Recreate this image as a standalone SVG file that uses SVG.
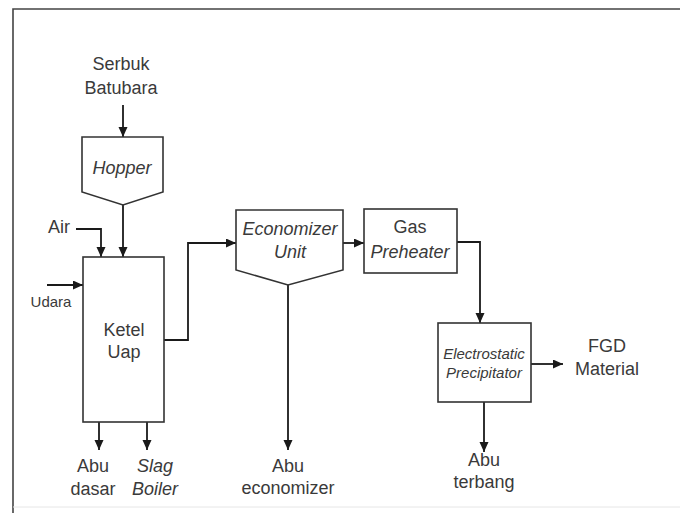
<svg xmlns="http://www.w3.org/2000/svg" width="680" height="513" viewBox="0 0 680 513">
<defs>
<marker id="ah" markerUnits="userSpaceOnUse" markerWidth="11" markerHeight="10" refX="10" refY="4.5" orient="auto">
<path d="M0,0 L10,4.5 L0,9 z" fill="#1a1a1a"/>
</marker>
<style>
.box{fill:#fff;stroke:#333;stroke-width:1.6}
.ln{fill:none;stroke:#1a1a1a;stroke-width:1.8}
.ar{fill:none;stroke:#1a1a1a;stroke-width:1.8;marker-end:url(#ah)}
text{font-family:"Liberation Sans",Arial,sans-serif;fill:#3a3a3a;text-anchor:middle}
.t{font-size:18px}
.i{font-style:italic}
.s{font-size:15px}
</style>
</defs>
<rect width="680" height="513" fill="#fff"/>
<g id="frame">
<path d="M13,513 L13,9 L680,9" fill="none" stroke="#444" stroke-width="1.6"/>
<line x1="13" y1="507" x2="680" y2="507" stroke="#e6e6e6" stroke-width="1"/>
</g>
<g id="connectors">
<line class="ar" x1="123" y1="105" x2="123" y2="137"/>
<line class="ar" x1="123" y1="205" x2="123" y2="257"/>
<path class="ar" d="M76,229 L101,229 L101,257"/>
<line class="ar" x1="47" y1="285" x2="83" y2="285"/>
<path class="ar" d="M164,340 L188,340 L188,243 L236,243"/>
<line class="ar" x1="343" y1="243" x2="364" y2="243"/>
<path class="ar" d="M457,242 L480,242 L480,323"/>
<line class="ar" x1="531" y1="364" x2="563" y2="364"/>
<line class="ar" x1="99" y1="422" x2="99" y2="450"/>
<line class="ar" x1="147" y1="422" x2="147" y2="450"/>
<line class="ar" x1="288" y1="285" x2="288" y2="450"/>
<line class="ar" x1="484" y1="402" x2="484" y2="452"/>
</g>
<g id="serbuk">
<text class="t" x="121" y="70">Serbuk</text>
<text class="t" x="121" y="94">Batubara</text>
</g>
<g id="hopper">
<path class="box" d="M82,137 L163,137 L163,192 L123,205 L82,192 Z"/>
<text class="t i" x="122" y="174">Hopper</text>
</g>
<g id="air"><text class="t" x="59" y="233">Air</text></g>
<g id="udara"><text class="s" x="51" y="307">Udara</text></g>
<g id="ketel">
<rect class="box" x="83" y="257" width="81" height="165"/>
<text class="t" x="124" y="336">Ketel</text>
<text class="t" x="124" y="358">Uap</text>
</g>
<g id="economizer">
<path class="box" d="M236,210 L343,210 L343,270 L288,285 L236,270 Z"/>
<text class="t i" x="290" y="235" font-size="17">Economizer</text>
<text class="t i" x="290" y="258">Unit</text>
</g>
<g id="preheater">
<rect class="box" x="364" y="209" width="93" height="64"/>
<text class="t" x="410" y="233">Gas</text>
<text class="t i" x="410" y="258">Preheater</text>
</g>
<g id="esp">
<rect class="box" x="438" y="323" width="93" height="79"/>
<text class="s i" x="484" y="359">Electrostatic</text>
<text class="s i" x="484" y="378">Precipitator</text>
</g>
<g id="fgd">
<text class="t" x="607" y="352">FGD</text>
<text class="t" x="607" y="375">Material</text>
</g>
<g id="abu-dasar">
<text class="t" x="93" y="472">Abu</text>
<text class="t" x="93" y="495">dasar</text>
</g>
<g id="slag">
<text class="t i" x="155" y="472">Slag</text>
<text class="t i" x="155" y="495">Boiler</text>
</g>
<g id="abu-economizer">
<text class="t" x="288" y="472">Abu</text>
<text class="t" x="288" y="494">economizer</text>
</g>
<g id="abu-terbang">
<text class="t" x="484" y="466">Abu</text>
<text class="t" x="484" y="488">terbang</text>
</g>
</svg>
